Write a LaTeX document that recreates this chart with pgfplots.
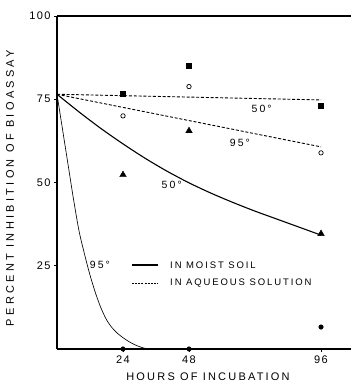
\documentclass[border=0pt]{standalone}
\usepackage{fontspec}
\setmainfont{Liberation Sans}
\newfontfamily\lab[LetterSpace=20]{Liberation Sans}
\newfontfamily\ylab[LetterSpace=30]{Liberation Sans}
\newfontfamily\tlab[LetterSpace=12]{Liberation Sans}
\usepackage{pgfplots}
\pgfplotsset{compat=1.18}
\begin{document}
\begin{tikzpicture}
\path[use as bounding box] (-57pt,-35pt) rectangle (294pt,349pt);
\begin{axis}[
  at={(0,0)}, anchor=south west,
  scale only axis, width=294pt, height=333pt,
  xmin=0, xmax=106.9, ymin=0, ymax=100,
  axis x line*=bottom, axis y line*=left,
  axis line style={-, line width=1.1pt},
  xtick={24,48,96}, ytick={25,50,75,100},
  tick align=outside, major tick length=3pt,
  tick style={line width=0.6pt, black},
  ticklabel style={font=\fontsize{11}{13}\selectfont\tlab},
  /pgf/number format/assume math mode=true,
  clip=false,
]
% top border line
\draw[line width=1.1pt] (rel axis cs:0,1) -- (rel axis cs:1,1);

% aqueous solution, 50 deg
\addplot[black, line width=0.9pt, dash pattern=on 3pt off 1.8pt] coordinates {(0,76.5) (96,74.8)};
% aqueous solution, 95 deg
\addplot[black, line width=0.9pt, dash pattern=on 3pt off 1.8pt] coordinates {(0,76.5) (96,60.7)};
% moist soil, 50 deg
\addplot[black, line width=1.1pt, smooth] coordinates {(0,76.5) (8,71.2) (16,66.2) (24,61.6) (32,57.3) (40,53.4) (48,49.9) (56,46.8) (64,44.0) (72,41.4) (80,39.0) (88,36.6) (96,34.2)};
% moist soil, 95 deg
\addplot[black, line width=0.65pt, smooth] coordinates {(0,76.5) (2,66) (4,55.5) (6,45) (8,35.5) (10,28.5) (12,22.2) (14,16.8) (16,12.3) (18,8.8) (20,6.4) (22,4.7) (24,3.4) (26,2.3) (28,1.4) (30,0.7) (32,0.2) (34,0)};

% data points
\addplot[only marks, mark=square*, mark size=2.6pt, black] coordinates {(24,76.6) (48,85) (96,73)};
\addplot[only marks, mark=o, mark size=2.2pt, black, mark options={line width=0.7pt}] coordinates {(24,70) (48,78.8) (96,58.9)};
\addplot[only marks, mark=triangle*, mark size=3.8pt, black] coordinates {(24,52.3) (48,65.5) (96,34.6)};
\addplot[only marks, mark=*, mark size=2.3pt, black] coordinates {(24,0) (48,0) (96,6.6)};

% curve labels
\node[font=\fontsize{10.5}{12}\selectfont\lab] at (axis cs:74.4,72) {50°};
\node[font=\fontsize{10.5}{12}\selectfont\lab] at (axis cs:66.5,61.8) {95°};
\node[font=\fontsize{10.5}{12}\selectfont\lab] at (axis cs:41.7,49.2) {50°};
\node[font=\fontsize{10.5}{12}\selectfont\lab] at (axis cs:15.6,25.2) {95°};

% legend
\draw[line width=1.3pt] (axis cs:27.2,25.2) -- (axis cs:36.7,25.2);
\node[anchor=west, inner sep=0pt, font=\fontsize{9.5}{11}\selectfont\lab] at (axis cs:41.1,25.2) {IN MOIST SOIL};
\draw[line width=0.9pt, dash pattern=on 2pt off 1.2pt] (axis cs:27.2,19.7) -- (axis cs:36.7,19.7);
\node[anchor=west, inner sep=0pt, font=\fontsize{9.5}{11}\selectfont\lab] at (axis cs:41.1,19.7) {IN AQUEOUS SOLUTION};
\end{axis}
% axis labels
\node[rotate=90, font=\fontsize{11}{13}\selectfont\ylab] at (-47pt,161pt) {PERCENT INHIBITION OF BIOASSAY};
\node[font=\fontsize{11}{13}\selectfont\lab] at (151pt,-28pt) {HOURS OF INCUBATION};
\end{tikzpicture}
\end{document}
